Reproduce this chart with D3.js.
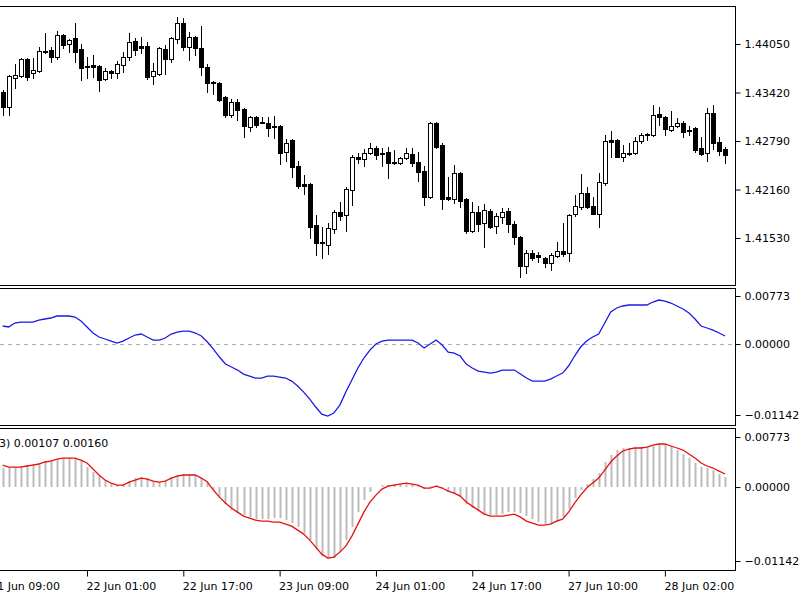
<!DOCTYPE html>
<html><head><meta charset="utf-8">
<script src="https://cdn.jsdelivr.net/npm/d3@7"></script>
<style>body{margin:0;background:#fff}svg{display:block}text{font-family:"DejaVu Sans",sans-serif;fill:#000}</style>
</head><body><svg id="c" width="800" height="600"></svg>
<script>
// ---- data (hourly bars, index 0..120) ----
const opens=[1.43428,1.43233,1.43610,1.43636,1.43857,1.43675,1.43701,1.43961,1.43974,1.43883,
1.44169,1.44052,1.44130,1.43987,1.43766,1.43779,1.43766,1.43597,1.43701,1.43675,
1.43779,1.43883,1.44091,1.44026,1.44026,1.43636,1.43662,1.43987,1.43857,1.44117,
1.44325,1.44013,1.44143,1.44000,1.43753,1.43558,1.43545,1.43363,1.43129,1.43298,
1.43207,1.42973,1.43103,1.43038,1.43025,1.42986,1.42986,1.42648,1.42804,1.42466,
1.42232,1.42232,1.41699,1.41478,1.41439,1.41647,1.41868,1.41829,1.42154,1.42583,
1.42557,1.42635,1.42700,1.42635,1.42648,1.42518,1.42505,1.42570,1.42622,1.42518,
1.42401,1.42063,1.43025,1.42739,1.42063,1.42037,1.42375,1.42037,1.41621,1.41868,
1.41725,1.41881,1.41686,1.41803,1.41881,1.41712,1.41543,1.41166,1.41335,1.41309,
1.41270,1.41205,1.41296,1.41361,1.41335,1.41842,1.41933,1.42115,1.41946,1.41842,
1.42245,1.42804,1.42804,1.42583,1.42635,1.42635,1.42791,1.42882,1.42869,1.43142,
1.43103,1.42934,1.42986,1.43025,1.42934,1.42960,1.42700,1.42635,1.43155,1.42778,
1.42687];
const highs=[1.43454,1.43649,1.43792,1.43870,1.43870,1.43870,1.44013,1.44195,1.44013,1.44221,
1.44182,1.44117,1.44325,1.44052,1.43883,1.43909,1.43779,1.43740,1.43714,1.43831,
1.43948,1.44195,1.44130,1.44143,1.44078,1.43805,1.44013,1.44039,1.44143,1.44403,
1.44390,1.44208,1.44156,1.44286,1.43792,1.43571,1.43558,1.43376,1.43337,1.43337,
1.43220,1.43116,1.43116,1.43103,1.43103,1.43116,1.42999,1.42817,1.42817,1.42531,
1.42349,1.42245,1.41829,1.41673,1.41725,1.41894,1.41998,1.42193,1.42609,1.42635,
1.42687,1.42765,1.42726,1.42700,1.42713,1.42674,1.42583,1.42700,1.42700,1.42648,
1.42466,1.43038,1.43038,1.42765,1.42323,1.42479,1.42388,1.42050,1.41998,1.41946,
1.41972,1.41907,1.41855,1.41920,1.41920,1.41751,1.41556,1.41374,1.41374,1.41348,
1.41283,1.41335,1.41478,1.41725,1.41842,1.42089,1.42362,1.42193,1.42063,1.42375,
1.42869,1.42921,1.42817,1.42739,1.42765,1.42843,1.42895,1.42895,1.43259,1.43233,
1.43116,1.43181,1.43090,1.43051,1.42986,1.42973,1.42843,1.43220,1.43259,1.42843,
1.42713];
const lows=[1.43129,1.43129,1.43480,1.43623,1.43584,1.43610,1.43688,1.43935,1.43818,1.43857,
1.44000,1.43948,1.43818,1.43584,1.43610,1.43623,1.43441,1.43584,1.43610,1.43610,
1.43688,1.43844,1.43909,1.43935,1.43597,1.43532,1.43649,1.43662,1.43818,1.44065,
1.43974,1.43844,1.43909,1.43649,1.43428,1.43402,1.43311,1.43103,1.43103,1.43064,
1.42843,1.42921,1.42973,1.43025,1.42856,1.42830,1.42492,1.42531,1.42323,1.42180,
1.42102,1.41530,1.41309,1.41270,1.41322,1.41595,1.41764,1.41621,1.41964,1.42505,
1.42466,1.42622,1.42557,1.42466,1.42310,1.42492,1.42492,1.42557,1.42466,1.42271,
1.41959,1.42050,1.42700,1.41907,1.42024,1.41985,1.41933,1.41595,1.41608,1.41621,
1.41413,1.41660,1.41595,1.41725,1.41608,1.41452,1.41023,1.41075,1.41244,1.41218,
1.41153,1.41114,1.41283,1.41296,1.41231,1.41816,1.41907,1.41920,1.41842,1.41673,
1.42219,1.42583,1.42583,1.42531,1.42609,1.42622,1.42765,1.42804,1.42856,1.42999,
1.42869,1.42921,1.42973,1.42843,1.42869,1.42648,1.42609,1.42531,1.42687,1.42609,
1.42505];
const closes=[1.43233,1.43636,1.43649,1.43857,1.43623,1.43714,1.43961,1.43948,1.43883,1.44169,
1.44039,1.44104,1.43948,1.43740,1.43753,1.43753,1.43584,1.43701,1.43675,1.43792,
1.43883,1.44078,1.43974,1.44000,1.43623,1.43701,1.44000,1.43857,1.44130,1.44325,
1.44013,1.44143,1.44000,1.43753,1.43545,1.43545,1.43324,1.43129,1.43298,1.43194,
1.42986,1.43103,1.42999,1.43025,1.42960,1.42973,1.42635,1.42765,1.42453,1.42206,
1.42206,1.41673,1.41465,1.41465,1.41660,1.41868,1.41816,1.42167,1.42583,1.42557,
1.42635,1.42700,1.42609,1.42622,1.42505,1.42505,1.42570,1.42635,1.42505,1.42388,
1.42063,1.43025,1.42713,1.42037,1.42037,1.42375,1.42011,1.41621,1.41868,1.41712,
1.41894,1.41673,1.41816,1.41868,1.41712,1.41543,1.41166,1.41335,1.41270,1.41283,
1.41205,1.41309,1.41361,1.41322,1.41829,1.41946,1.42115,1.41933,1.41842,1.42258,
1.42791,1.42778,1.42583,1.42635,1.42622,1.42791,1.42869,1.42869,1.43129,1.43103,
1.42947,1.42986,1.43025,1.42908,1.42921,1.42674,1.42622,1.43155,1.42765,1.42661,
1.42609];
// oscillator (blue line, middle panel)
const oscLine=[0.00290,0.00274,0.00338,0.00354,0.00354,0.00354,0.00386,0.00403,0.00419,0.00451,
0.00451,0.00451,0.00435,0.00370,0.00274,0.00177,0.00113,0.00081,0.00048,0.00016,
0.00048,0.00097,0.00145,0.00161,0.00113,0.00064,0.00064,0.00097,0.00161,0.00193,
0.00209,0.00209,0.00177,0.00129,0.00032,-0.00081,-0.00209,-0.00322,-0.00370,-0.00419,
-0.00483,-0.00515,-0.00547,-0.00547,-0.00515,-0.00515,-0.00531,-0.00547,-0.00596,-0.00676,
-0.00773,-0.00886,-0.01014,-0.01127,-0.01159,-0.01111,-0.00982,-0.00773,-0.00580,-0.00386,
-0.00225,-0.00097,0.00000,0.00048,0.00064,0.00064,0.00064,0.00064,0.00064,0.00016,
-0.00064,0.00000,0.00064,-0.00016,-0.00129,-0.00145,-0.00193,-0.00322,-0.00386,-0.00435,
-0.00451,-0.00467,-0.00451,-0.00419,-0.00419,-0.00419,-0.00483,-0.00547,-0.00596,-0.00596,
-0.00596,-0.00564,-0.00515,-0.00467,-0.00354,-0.00193,-0.00048,0.00048,0.00113,0.00161,
0.00338,0.00515,0.00580,0.00612,0.00628,0.00628,0.00628,0.00628,0.00676,0.00708,
0.00692,0.00660,0.00612,0.00564,0.00499,0.00403,0.00290,0.00258,0.00225,0.00177,
0.00129];
// histogram (grey bars, bottom panel)
const histValues=[0.00294,0.00294,0.00309,0.00325,0.00325,0.00356,0.00371,0.00387,0.00417,0.00433,
0.00448,0.00448,0.00448,0.00402,0.00309,0.00232,0.00170,0.00108,0.00062,0.00031,
0.00046,0.00093,0.00139,0.00155,0.00139,0.00093,0.00077,0.00093,0.00155,0.00186,
0.00201,0.00201,0.00186,0.00139,0.00062,-0.00031,-0.00155,-0.00263,-0.00356,-0.00402,
-0.00433,-0.00464,-0.00495,-0.00495,-0.00495,-0.00479,-0.00479,-0.00510,-0.00557,-0.00618,
-0.00711,-0.00819,-0.00959,-0.01067,-0.01113,-0.01098,-0.01005,-0.00819,-0.00618,-0.00387,
-0.00201,-0.00077,0.00000,0.00031,0.00031,0.00046,0.00046,0.00046,0.00046,0.00015,
-0.00031,0.00015,0.00031,-0.00015,-0.00077,-0.00108,-0.00155,-0.00263,-0.00325,-0.00371,
-0.00417,-0.00433,-0.00433,-0.00417,-0.00387,-0.00387,-0.00402,-0.00448,-0.00495,-0.00541,
-0.00572,-0.00572,-0.00541,-0.00464,-0.00340,-0.00170,-0.00046,0.00046,0.00124,0.00216,
0.00387,0.00495,0.00572,0.00603,0.00603,0.00603,0.00618,0.00618,0.00634,0.00665,
0.00665,0.00634,0.00572,0.00510,0.00448,0.00371,0.00309,0.00294,0.00263,0.00201,
0.00155];
// signal (red line, bottom panel)
const signalLine=[0.00340,0.00309,0.00309,0.00309,0.00325,0.00340,0.00356,0.00387,0.00402,0.00433,
0.00448,0.00448,0.00448,0.00417,0.00371,0.00278,0.00186,0.00108,0.00062,0.00031,
0.00031,0.00077,0.00108,0.00139,0.00124,0.00093,0.00077,0.00093,0.00139,0.00170,
0.00186,0.00186,0.00186,0.00139,0.00077,-0.00046,-0.00155,-0.00247,-0.00325,-0.00387,
-0.00448,-0.00479,-0.00510,-0.00526,-0.00526,-0.00541,-0.00541,-0.00572,-0.00603,-0.00665,
-0.00727,-0.00819,-0.00928,-0.01036,-0.01098,-0.01082,-0.01005,-0.00912,-0.00758,-0.00572,
-0.00387,-0.00232,-0.00124,-0.00031,0.00015,0.00031,0.00046,0.00062,0.00046,0.00031,
-0.00015,-0.00015,0.00015,-0.00015,-0.00062,-0.00093,-0.00139,-0.00232,-0.00294,-0.00356,
-0.00417,-0.00448,-0.00448,-0.00448,-0.00433,-0.00417,-0.00464,-0.00526,-0.00557,-0.00587,
-0.00587,-0.00572,-0.00526,-0.00495,-0.00387,-0.00247,-0.00124,-0.00015,0.00062,0.00139,
0.00263,0.00387,0.00479,0.00557,0.00587,0.00603,0.00603,0.00618,0.00649,0.00665,
0.00665,0.00634,0.00603,0.00572,0.00510,0.00448,0.00371,0.00325,0.00294,0.00247,
0.00201];
const priceTicks=[1.44050,1.43420,1.42790,1.42160,1.41530];
const oscTicks=[0.00773,0.00000,-0.01142];
const timeTickIdx=[-2,14,30,46,62,78,94,110];
const timeTickLabels=["21 Jun 09:00","22 Jun 01:00","22 Jun 17:00","23 Jun 09:00","24 Jun 01:00","24 Jun 17:00","27 Jun 10:00","28 Jun 02:00"];
const legendText="3) 0.00107 0.00160";

// ---- layout ----
const svg=d3.select("#c");
const AX=735;
const P1={top:7,bottom:285}, P2={top:289,bottom:425}, P3={top:429,bottom:570};
const N=opens.length;
const x=d3.scaleLinear().domain([0,120]).range([2.7,725.1]);
const yP=d3.scaleLinear().domain([1.41530,1.44050]).range([238,44]);
const y2=d3.scaleLinear().domain([-0.01142,0.00773]).range([415,296]);
const y3=d3.scaleLinear().domain([-0.01142,0.00773]).range([561,437]);

const defs=svg.append("defs");
[["c1",P1],["c2",P2],["c3",P3]].forEach(([id,p])=>{
  defs.append("clipPath").attr("id",id).append("rect").attr("x",0).attr("y",p.top).attr("width",AX).attr("height",p.bottom-p.top);
});

// ---- candles ----
const g1=svg.append("g").attr("clip-path","url(#c1)");
const idx=d3.range(N);
const cg=g1.selectAll("g.c").data(idx).join("g");
cg.append("line")
  .attr("x1",i=>Math.round(x(i))+0.5).attr("x2",i=>Math.round(x(i))+0.5)
  .attr("y1",i=>Math.round(yP(highs[i]))).attr("y2",i=>Math.round(yP(lows[i]))+1)
  .attr("stroke","#000").attr("stroke-width",1);
cg.append("rect")
  .attr("x",i=>Math.round(x(i))-1.5).attr("width",4)
  .attr("y",i=>Math.round(yP(Math.max(opens[i],closes[i])))+0.5)
  .attr("height",i=>Math.max(1,Math.round(yP(Math.min(opens[i],closes[i])))-Math.round(yP(Math.max(opens[i],closes[i])))))
  .attr("fill",i=>closes[i]>=opens[i]?"#fff":"#000")
  .attr("stroke","#000").attr("stroke-width",1);

// ---- middle panel ----
const g2=svg.append("g").attr("clip-path","url(#c2)");
g2.append("line").attr("x1",0).attr("x2",AX).attr("y1",Math.round(y2(0))+0.5).attr("y2",Math.round(y2(0))+0.5)
  .attr("stroke","#b0b0b0").attr("stroke-dasharray","4,4");
g2.append("path").datum(oscLine)
  .attr("d",d3.line().x((d,i)=>x(i)).y(d=>y2(d)))
  .attr("fill","none").attr("stroke","#1a1ae6").attr("stroke-width",1.3);

// ---- bottom panel ----
const g3=svg.append("g").attr("clip-path","url(#c3)");
g3.selectAll("rect.h").data(histValues).join("rect")
  .attr("x",(d,i)=>Math.round(x(i))-0.5).attr("width",2)
  .attr("y",d=>Math.min(y3(d),y3(0))).attr("height",d=>Math.abs(y3(d)-y3(0)))
  .attr("fill","#bcbcbc");
g3.append("path").datum(signalLine)
  .attr("d",d3.line().x((d,i)=>x(i)).y(d=>y3(d)))
  .attr("fill","none").attr("stroke","#e81010").attr("stroke-width",1.3);
svg.append("text").attr("x",-1).attr("y",447).attr("font-size",11).text(legendText);

// ---- frames ----
const fr=svg.append("g").attr("stroke","#000").attr("stroke-width",1).attr("shape-rendering","crispEdges");
[6.5,285.5,288.5,425.5,428.5,570.5].forEach(yy=>fr.append("line").attr("x1",0).attr("x2",AX+1).attr("y1",yy).attr("y2",yy));
[[6,286],[288,426],[428,571]].forEach(([a,b])=>fr.append("line").attr("x1",AX+0.5).attr("x2",AX+0.5).attr("y1",a).attr("y2",b));

// ---- axes ----
function rightAxis(scale,ticks){
  const g=svg.append("g").attr("transform",`translate(${AX+0.5},0)`)
    .call(d3.axisRight(scale).tickValues(ticks).tickFormat(d3.format(".5f")).tickSize(5).tickPadding(4));
  g.select(".domain").remove();
  g.selectAll("text").attr("font-size",11).attr("font-family","DejaVu Sans").attr("fill","#000");
  g.selectAll("line").attr("stroke","#000");
}
rightAxis(yP,priceTicks);
rightAxis(y2,oscTicks);
rightAxis(y3,oscTicks);

const gx=svg.append("g").attr("transform",`translate(0,${P3.bottom+0.5})`)
  .call(d3.axisBottom(x).tickValues(timeTickIdx).tickFormat((d,i)=>timeTickLabels[i]).tickSize(6).tickPadding(6));
gx.select(".domain").remove();
gx.selectAll("line").attr("stroke","#000");
gx.selectAll("text").attr("text-anchor","start").attr("dx",-1).attr("font-size",11).attr("font-family","DejaVu Sans").attr("fill","#000");
</script></body></html>
